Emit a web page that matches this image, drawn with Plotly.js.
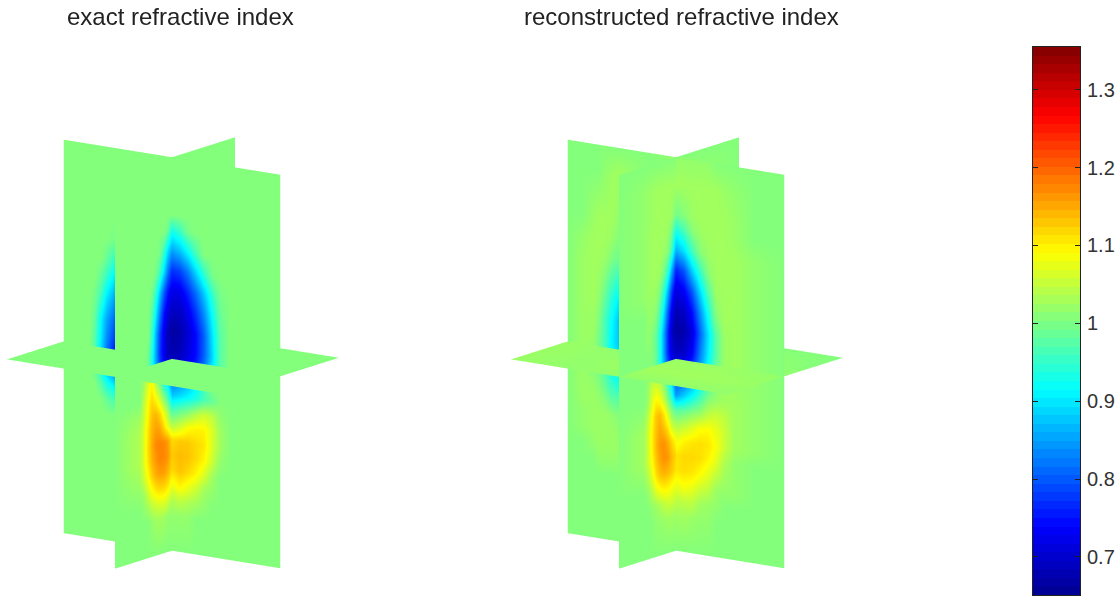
<!DOCTYPE html>
<html><head><meta charset="utf-8">
<script src="https://cdn.plot.ly/plotly-3.0.1.min.js"></script>
<style>html,body{margin:0;padding:0;background:#fff}#p{width:1120px;height:597px}</style></head>
<body><div id="p"></div>
<script>
// Plane coordinates
const zRows=[1,.86,.707,.631,.529,.427,.326,.224,.122,.02,-.02,-.122,-.209,-.285,-.361,-.438,-.514,-.59,-.667,-.743,-.819,-1];
const xCols=[-1,-.87,-.759,-.713,-.657,-.602,-.528,-.204,0,.074,.148,.222,.296,.37,.444,.537,.722,1];
const yCols=[-.95,-.533,-.467,-.4,-.333,-.267,-.2,-.133,-.067,0,1.05];
const flatX=[-1,-.5,0,.5,1];
const flatY=[-.95,-.5,0,.5,.98];
const flatZ=-.025;
const tickVals=[.7,.8,.9,1,1.1,1.2,1.3];
const tickText=['0.7','0.8','0.9','1','1.1','1.2','1.3'];
const titles=['exact refractive index','reconstructed refractive index'];
const cMin=.651,cMax=1.355;
const sliceMin=.645,sliceMax=1.349;

// exact: plane y=0 (rows zRows, columns xCols)
const exactA=[
[1,1,1,1,1,1,1,1,1,1,1,1,1,1,1,1,1,1],
[1,1,1,1,1,1,1,1,1,1,1,1,1,1,1,1,1,1],
[1,1,1,1,1,1,1,1,1,1,1,1,1,1,1,1,1,1],
[1,1,1,1,1,1,1,1,.93,.95,.99,1,1,1,1,1,1,1],
[1,1,1,1,1,1,.99,1,.85,.87,.91,.96,1,1,1,1,1,1],
[1,1,1,1,1,.98,.94,1,.77,.78,.82,.88,.94,.99,1,1,1,1],
[1,1,1,1,.98,.94,.89,.9,.72,.72,.76,.81,.87,.94,.99,1,1,1],
[1,1,1,.99,.95,.89,.84,.85,.69,.69,.72,.77,.83,.91,.98,1,1,1],
[1,1,1,.98,.91,.85,.80,.8,.66,.67,.70,.74,.80,.89,.97,1,1,1],
[1,1,1,.97,.90,.83,.77,.8,.67,.68,.71,.74,.80,.88,.97,1,1,1],
[1,1,1,.97,.89,.82,.75,.8,.68,.69,.72,.75,.81,.89,.97,1,1,1],
[1,1,1,.98,.92,.86,.80,.8,.80,.82,.85,.90,.95,1,1,1,1,1],
[1,1,1,1,.97,.93,.90,.9,.87,.89,.91,.93,.96,.98,1,1,1,1],
[1,1,1,1,1,.98,.96,1,.96,.98,1,1.03,1.05,1.04,1.01,1,1,1],
[1,1,1,1,1,1,1,1,1.03,1.05,1.08,1.09,1.09,1.06,1.02,1,1,1],
[1,1,1,1,1,1,1,1,1.11,1.12,1.12,1.11,1.10,1.06,1.02,1,1,1],
[1,1,1,1,1,1,1,1,1.12,1.13,1.125,1.11,1.09,1.05,1.01,1,1,1],
[1,1,1,1,1,1,1,1,1.11,1.125,1.11,1.09,1.06,1.02,1,1,1,1],
[1,1,1,1,1,1,1,1,1.07,1.09,1.07,1.05,1.02,1.01,1,1,1,1],
[1,1,1,1,1,1,1,1,1.03,1.04,1.03,1.02,1.01,1,1,1,1,1],
[1,1,1,1,1,1,1,1,1.01,1.01,1.01,1,1,1,1,1,1,1],
[1,1,1,1,1,1,1,1,1,1,1,1,1,1,1,1,1,1]];

// exact: plane x=0 (rows zRows, columns yCols)
const exactB=[
[1,1,1,1,1,1,1,1,1,1,1],
[1,1,1,1,1,1,1,1,1,1,1],
[1,1,1,1,1,1,1,1,1,1,1],
[1,1,1,1,1,1,1,1,.98,.93,1],
[1,1,1,1,1,1,.99,.95,.89,.85,1],
[1,1,1,1,1,.99,.95,.89,.82,.77,1],
[1,1,1,1,.99,.94,.87,.80,.75,.72,1],
[1,1,1,1,.97,.90,.82,.75,.71,.69,1],
[1,1,1,1,.95,.86,.78,.72,.68,.66,1],
[1,1,1,.99,.93,.85,.77,.72,.68,.67,1],
[1,1,1,.99,.93,.85,.78,.73,.69,.68,1],
[1,1,1.02,1.06,1.09,1.03,.98,.92,.88,.80,1],
[1,1,1.04,1.08,1.11,1.09,1.05,1,.95,.88,1],
[1,1.02,1.05,1.09,1.125,1.135,1.11,1.07,1.02,.96,1],
[1,1.03,1.06,1.10,1.135,1.15,1.145,1.11,1.07,1.03,1],
[1,1.03,1.06,1.105,1.14,1.165,1.17,1.165,1.15,1.11,1],
[1,1.03,1.06,1.10,1.135,1.155,1.17,1.165,1.155,1.12,1],
[1,1.02,1.05,1.08,1.115,1.14,1.15,1.15,1.135,1.11,1],
[1,1.01,1.02,1.05,1.08,1.10,1.11,1.11,1.10,1.07,1],
[1,1,1.01,1.02,1.04,1.05,1.06,1.06,1.05,1.03,1],
[1,1,1,1,1.01,1.02,1.02,1.02,1.01,1.01,1],
[1,1,1,1,1,1,1,1,1,1,1]];

// exact: plane z=flatZ
const exactC=[[1,1,1,1,1],[1,1,1,1,1],[1,1,1,1,1],[1,1,1,1,1],[1,1,1,1,1]];

// reconstructed
const reconA=[
[1,1,1,1,1,1,1,1,1.01,1.01,1.01,1.01,1.01,1,1,1,1,1],
[1,1,1,1,1.01,1.015,1.02,1,1.02,1.02,1.02,1.02,1.02,1.02,1.015,1.01,1,1],
[1,1,1.01,1.015,1.015,1.02,1.015,1,.99,1,1.015,1.02,1.02,1.02,1.02,1.015,1,1],
[1,1,1.015,1.02,1.02,1.02,1.01,1,.93,.96,1,1.015,1.02,1.02,1.02,1.015,1,1],
[1,1.01,1.02,1.02,1.02,1.015,1,1,.86,.89,.95,1,1.015,1.02,1.02,1.02,1.01,1],
[1,1.015,1.02,1.02,1.015,1,.98,1,.76,.79,.87,.94,1,1.02,1.02,1.02,1.01,1],
[1,1.015,1.02,1.015,1,.97,.94,.95,.71,.73,.79,.88,.96,1.015,1.02,1.02,1.01,1],
[1,1.015,1.02,1.01,.98,.94,.90,.9,.68,.69,.74,.83,.92,1,1.02,1.02,1.01,1],
[1,1.015,1.015,1,.96,.92,.87,.9,.66,.67,.71,.80,.89,.97,1.015,1.02,1.01,1],
[1,1.015,1.015,.99,.96,.91,.87,.9,.68,.69,.73,.82,.90,.97,1.015,1.02,1.01,1],
[1,1.015,1.01,.99,.96,.91,.88,.9,.70,.71,.75,.83,.91,.98,1.015,1.02,1.01,1],
[1,1.015,1,.99,.96,.92,.89,.9,.78,.80,.84,.90,.96,1,1.015,1.015,1.01,1],
[1,1.015,1.01,1,.98,.95,.93,.9,.84,.88,.92,.96,1,1.015,1.02,1.02,1.01,1],
[1,1.015,1.015,1.01,1,.98,.97,1,.97,.98,1,1.015,1.04,1.05,1.04,1.02,1.01,1],
[1,1.01,1.015,1.015,1.015,1.01,1,1,1.03,1.04,1.06,1.08,1.085,1.07,1.05,1.02,1.01,1],
[1,1.01,1.015,1.015,1.015,1.015,1.01,1,1.07,1.09,1.10,1.105,1.10,1.08,1.05,1.02,1.01,1],
[1,1,1.01,1.015,1.015,1.015,1.015,1,1.10,1.11,1.11,1.105,1.09,1.065,1.03,1.01,1,1],
[1,1,1,1.01,1.01,1.01,1.01,1,1.10,1.105,1.10,1.085,1.065,1.04,1.02,1.01,1,1],
[1,1,1,1,1,1,1,1,1.07,1.08,1.07,1.05,1.04,1.015,1.01,1.01,1,1],
[1,1,1,1,1,1,1,1,1.04,1.04,1.04,1.02,1.015,1.01,1,1,1,1],
[1,1,1,1,1,1,1,1,1.02,1.02,1.015,1.01,1.01,1,1,1,1,1],
[1,1,1,1,1,1,1,1,1,1,1,1,1,1,1,1,1,1]];

const reconB=[
[1,1,1,1,1,1,1,1,1,1,1],
[1,1.01,1.015,1.015,1.02,1.02,1.02,1.02,1.02,1.02,1],
[1,1.01,1.015,1.015,1.02,1.02,1.02,1.02,1.015,.99,1],
[1,1.01,1.015,1.02,1.02,1.02,1.02,1.015,.99,.93,1],
[1,1.01,1.015,1.02,1.02,1.02,1.015,1,.95,.86,1],
[1,1.01,1.015,1.02,1.02,1.015,.99,.94,.85,.76,1],
[1,1.01,1.015,1.015,1.015,.99,.94,.86,.77,.71,1],
[1,1,1.01,1.01,1,.96,.89,.80,.72,.68,1],
[1,1,1.01,1,.98,.93,.85,.76,.69,.66,1],
[1,1,1,1,.98,.93,.85,.76,.71,.68,1],
[1,1,1,1,.98,.93,.86,.78,.72,.70,1],
[1,1,1.01,1.04,1.05,1.03,1,.95,.88,.78,1],
[1,1,1.015,1.06,1.09,1.08,1.04,.99,.93,.84,1],
[1,1.01,1.04,1.08,1.12,1.13,1.10,1.05,1,.97,1],
[1,1.02,1.05,1.09,1.125,1.145,1.13,1.10,1.05,1.03,1],
[1,1.02,1.05,1.09,1.13,1.155,1.16,1.14,1.11,1.08,1],
[1,1.02,1.05,1.08,1.12,1.145,1.16,1.155,1.13,1.11,1],
[1,1.01,1.03,1.06,1.10,1.125,1.135,1.13,1.12,1.10,1],
[1,1,1.01,1.03,1.06,1.08,1.09,1.09,1.08,1.07,1],
[1,1,1,1.01,1.015,1.03,1.04,1.05,1.05,1.04,1],
[1,1,1,1,1.01,1.01,1.015,1.02,1.02,1.015,1],
[1,1,1,1,1,1,1,1,1,1,1]];

const reconC=[
[1.015,1.01,1.01,1.01,1.01],
[1.015,1.01,1.02,1.02,1.015],
[1.015,1.01,1.015,1.015,1.01],
[1,1.01,1.01,1.01,1],
[1,1,1,1,1]];

const jetAnchors=[[0,0,0,143],[.125,0,0,255],[.375,0,255,255],[.625,255,255,0],[.875,255,0,0],[1,128,0,0]];
const jetSmooth=jetAnchors.map(a=>[a[0],'rgb('+a[1]+','+a[2]+','+a[3]+')']);
function jetAt(t){for(let i=1;i<jetAnchors.length;i++){const a=jetAnchors[i-1],b=jetAnchors[i];
 if(t<=b[0]){const f=(t-a[0])/(b[0]-a[0]);return 'rgb('+[1,2,3].map(k=>Math.round(a[k]+f*(b[k]-a[k]))).join(',')+')';}}}
const jet=[];for(let i=0;i<64;i++){const c=jetAt((i+.5)/64);jet.push([i/64,c]);jet.push([(i+1)/64,c]);}

function planeA(vals,scene){const X=[],Y=[],Z=[];zRows.forEach(z=>{X.push(xCols.slice());Y.push(xCols.map(()=>0));Z.push(xCols.map(()=>z));});return sf(X,Y,Z,vals,scene);}
function planeB(vals,scene){const X=[],Y=[],Z=[];zRows.forEach(z=>{X.push(yCols.map(()=>0));Y.push(yCols.slice());Z.push(yCols.map(()=>z));});return sf(X,Y,Z,vals,scene);}
function planeC(vals,scene){const X=[],Y=[],Z=[];flatY.forEach(y=>{X.push(flatX.slice());Y.push(flatX.map(()=>y));Z.push(flatX.map(()=>flatZ));});return sf(X,Y,Z,vals,scene);}
function sf(x,y,z,c,scene){return {type:'surface',x,y,z,surfacecolor:c,scene,colorscale:jetSmooth,cmin:sliceMin,cmax:sliceMax,showscale:false,hoverinfo:'skip',
 lighting:{ambient:1,diffuse:0,specular:0,roughness:1,fresnel:0},contours:{x:{show:false},y:{show:false},z:{show:false}}};}

const traces=[planeA(exactA,'scene'),planeB(exactB,'scene'),planeC(exactC,'scene'),
 planeA(reconA,'scene2'),planeB(reconB,'scene2'),planeC(reconC,'scene2')];
// colour key: one cell per colormap level, on ordinary axes
const barY=[],barZ=[];for(let i=0;i<64;i++){const v=cMin+(i+.5)/64*(cMax-cMin);barY.push(v);barZ.push([v]);}
traces.push({type:'heatmap',x:[.5],y:barY,z:barZ,xaxis:'x',yaxis:'y',colorscale:jet,zmin:cMin,zmax:cMax,showscale:false,hoverinfo:'skip'});

const hide={visible:false};
const cam={projection:{type:'orthographic'},up:{x:0,y:0,z:1},center:{x:0,y:0,z:0},eye:{x:.5669,y:-.7925,z:.2265}};
function scn(x0,x1){return {domain:{x:[x0/1120,x1/1120],y:[0,1-109/597]},bgcolor:'#fff',camera:cam,aspectmode:'manual',aspectratio:{x:1.091,y:.846,z:1.656},
 xaxis:Object.assign({range:[-1,1]},hide),yaxis:Object.assign({range:[-.95,1.05]},hide),zaxis:Object.assign({range:[-1,1]},hide)};}
const titleFont={family:'Liberation Sans',size:24,color:'#222'};
const layout={width:1120,height:597,margin:{l:0,r:0,t:0,b:0},paper_bgcolor:'#fff',plot_bgcolor:'rgba(0,0,0,0)',showlegend:false,
 scene:scn(0,350),scene2:scn(503.5,853.5),
 xaxis:{domain:[1033/1120,1080/1120],range:[0,1],showticklabels:false,ticks:'',showgrid:false,zeroline:false,showline:true,linecolor:'#222',linewidth:1,mirror:true,fixedrange:true},
 yaxis:{domain:[2/597,550/597],range:[cMin,cMax],side:'right',ticks:'inside',ticklen:5,tickcolor:'#222',tickvals:tickVals,ticktext:tickText,tickfont:{family:'Liberation Sans',size:20,color:'#333'},ticklabelstandoff:2,showgrid:false,zeroline:false,showline:true,linecolor:'#222',linewidth:1,mirror:'allticks',fixedrange:true},
 annotations:[
 {text:titles[0],xref:'paper',yref:'paper',x:180/1120,y:1-17/597,xanchor:'center',yanchor:'middle',showarrow:false,font:titleFont},
 {text:titles[1],xref:'paper',yref:'paper',x:682/1120,y:1-17/597,xanchor:'center',yanchor:'middle',showarrow:false,font:titleFont}]};
Plotly.newPlot('p',traces,layout,{displayModeBar:false});
</script></body></html>
